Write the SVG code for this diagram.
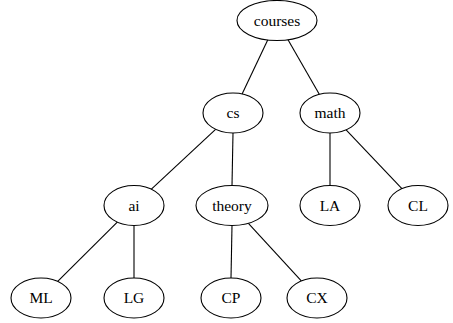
<svg xmlns="http://www.w3.org/2000/svg" width="453" height="323" viewBox="0 0 453 323">
<style>
.n ellipse{fill:none;stroke:#000;stroke-width:1.1}
.n text{font-family:"Liberation Serif","Times New Roman",serif;font-size:15.5px;text-anchor:middle;fill:#000}
#edges line{stroke:#000;stroke-width:1.1}
</style>
<rect width="453" height="323" fill="#fff"/>
<g id="edges">
<line x1="267.7" y1="40" x2="242.1" y2="93.9"/>
<line x1="288" y1="39.7" x2="319.3" y2="94.3"/>
<line x1="215.6" y1="129.3" x2="151.4" y2="189.2"/>
<line x1="233" y1="133" x2="232" y2="185.5"/>
<line x1="330" y1="133" x2="330" y2="185.5"/>
<line x1="346.1" y1="129.9" x2="401.9" y2="188.6"/>
<line x1="117.3" y1="222.1" x2="57.7" y2="281.4"/>
<line x1="134" y1="225.5" x2="134" y2="278"/>
<line x1="232" y1="225.5" x2="231" y2="278"/>
<line x1="248.4" y1="223.3" x2="301.3" y2="280.9"/>
</g>
<g id="courses" class="n"><ellipse cx="277" cy="20.5" rx="40" ry="20"/><text x="277" y="25.8">courses</text></g>
<g id="cs" class="n"><ellipse cx="233" cy="113" rx="30" ry="20"/><text x="233" y="118.3">cs</text></g>
<g id="math" class="n"><ellipse cx="330" cy="113" rx="30" ry="20"/><text x="330" y="118.3">math</text></g>
<g id="ai" class="n"><ellipse cx="134" cy="205.5" rx="30" ry="20"/><text x="134" y="210.8">ai</text></g>
<g id="theory" class="n"><ellipse cx="232" cy="205.5" rx="36" ry="20"/><text x="232" y="210.8">theory</text></g>
<g id="LA" class="n"><ellipse cx="330" cy="205.5" rx="30" ry="20"/><text x="330" y="210.8">LA</text></g>
<g id="CL" class="n"><ellipse cx="418" cy="205.5" rx="30" ry="20"/><text x="418" y="210.8">CL</text></g>
<g id="ML" class="n"><ellipse cx="41" cy="298" rx="30" ry="20"/><text x="41" y="303.3">ML</text></g>
<g id="LG" class="n"><ellipse cx="134" cy="298" rx="30" ry="20"/><text x="134" y="303.3">LG</text></g>
<g id="CP" class="n"><ellipse cx="231" cy="298" rx="30" ry="20"/><text x="231" y="303.3">CP</text></g>
<g id="CX" class="n"><ellipse cx="317" cy="298" rx="30" ry="20"/><text x="317" y="303.3">CX</text></g>
</svg>
